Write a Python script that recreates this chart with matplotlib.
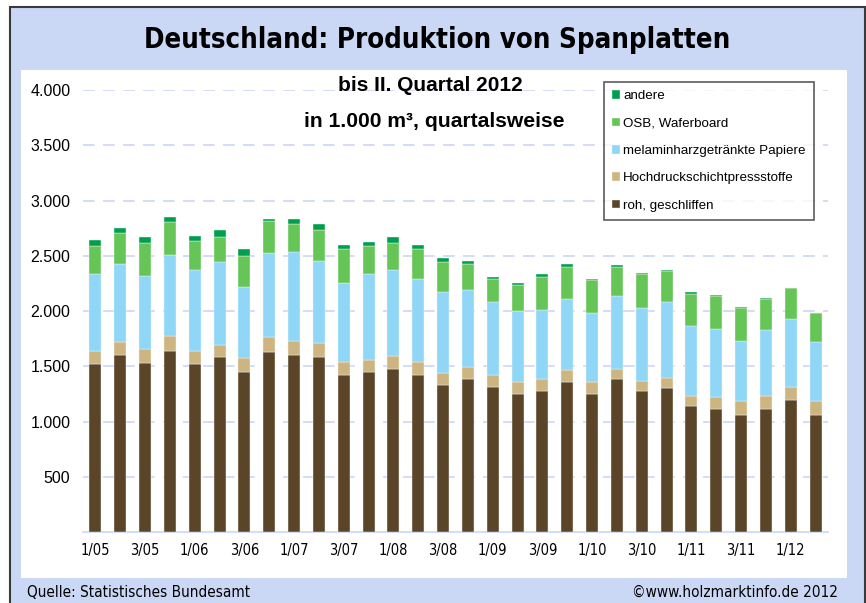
import matplotlib.pyplot as plt
from matplotlib.patches import Rectangle
import numpy as np

plt.rcParams['font.family'] = ['Liberation Sans', 'DejaVu Sans']

# data, 1.000 m3 per quarter, Q1 2005 .. Q2 2012
quarters = ["1/05", "2/05", "3/05", "4/05", "1/06", "2/06", "3/06", "4/06",
            "1/07", "2/07", "3/07", "4/07", "1/08", "2/08", "3/08", "4/08",
            "1/09", "2/09", "3/09", "4/09", "1/10", "2/10", "3/10", "4/10",
            "1/11", "2/11", "3/11", "4/11", "1/12", "2/12"]

roh = [1518, 1599, 1533, 1635, 1518, 1584, 1451, 1626, 1599, 1584,
       1424, 1451, 1478, 1424, 1327, 1382, 1315, 1249, 1276, 1358,
       1249, 1382, 1276, 1303, 1143, 1116, 1062, 1116, 1195, 1062]
hochdruck = [117, 121, 121, 139, 117, 109, 121, 136, 133, 124,
             118, 106, 118, 118, 109, 108, 106, 109, 106, 105,
             109, 93, 94, 94, 91, 106, 121, 118, 120, 121]
melamin = [698, 709, 667, 734, 740, 748, 643, 761, 806, 749,
           709, 776, 779, 752, 737, 698, 658, 640, 631, 643,
           628, 659, 655, 682, 631, 616, 549, 592, 616, 534]
osb = [256, 281, 296, 296, 257, 230, 281, 296, 254, 280,
       308, 256, 239, 268, 268, 242, 215, 241, 299, 296,
       295, 268, 308, 281, 293, 296, 296, 280, 281, 269]
andere = [52, 39, 51, 51, 51, 63, 63, 12, 39, 55,
          42, 40, 54, 39, 37, 24, 12, 12, 21, 24,
          13, 12, 15, 15, 15, 12, 12, 12, 0, 0]

series = [("roh, geschliffen", roh, "#5b4529"),
          ("Hochdruckschichtpressstoffe", hochdruck, "#cdb582"),
          ("melaminharzgetränkte Papiere", melamin, "#8fd6f7"),
          ("OSB, Waferboard", osb, "#65c657"),
          ("andere", andere, "#009f4f")]

fig = plt.figure(figsize=(8.66, 6.03), dpi=100)

# light blue frame and white panel
fig.patches.append(Rectangle((0.0116, -0.02), 0.987, 1.0084, transform=fig.transFigure,
                             facecolor="#cad8f6", edgecolor="#3a3a3a", lw=1.5, zorder=-2))
fig.patches.append(Rectangle((0.0243, 0.0415), 0.9538, 0.8425, transform=fig.transFigure,
                             facecolor="white", edgecolor="none", zorder=-1))

ax = fig.add_axes([0.0958, 0.1177, 0.8603, 0.733])
ax.set_facecolor("none")

x = np.arange(len(quarters))
bottom = np.zeros(len(quarters))
handles = []
for name, vals, col in series:
    b = ax.bar(x, vals, width=0.48, bottom=bottom, color=col,
               edgecolor="#f4f4f4", linewidth=0.3, label=name, zorder=3)
    handles.append(b)
    bottom += np.array(vals)

ax.set_xlim(-0.5, len(quarters) - 0.5)
ax.set_ylim(0, 4000)
ax.set_yticks(np.arange(500, 4001, 500))
ax.set_yticklabels([f"{v:,}".replace(",", ".") for v in range(500, 4001, 500)], fontsize=11.5)
ax.set_xticks(x[::2])
ax.set_xticklabels(quarters[::2], fontsize=10.5, fontstretch="condensed",
                   family=['DejaVu Sans'])
ax.tick_params(length=0, pad=8)
ax.tick_params(axis='y', pad=9)

for v in range(500, 4001, 500):
    ax.axhline(v, color="#cdd6f6", lw=1.2, dashes=(7, 5), zorder=1)

for s in ["top", "right", "left"]:
    ax.spines[s].set_visible(False)
ax.spines["bottom"].set_color("#cdd6f6")
ax.spines["bottom"].set_linewidth(1.2)

leg = ax.legend(handles[::-1], [s[0] for s in series][::-1],
                loc="upper left", bbox_to_anchor=(0.69, 1.034),
                frameon=True, fancybox=False,
                handlelength=0.6, handleheight=0.6, handletextpad=0.2,
                labelspacing=1.15, borderpad=0.65, prop={'size': 9.6})
leg.get_frame().set_edgecolor("#333333")
leg.get_frame().set_linewidth(1.2)

fig.text(0.505, 0.934, "Deutschland: Produktion von Spanplatten", ha="center", va="center",
         fontsize=19.8, fontweight="bold", fontstretch="condensed", family=['DejaVu Sans'])
fig.text(0.497, 0.859, "bis II. Quartal 2012", ha="center", va="center",
         fontsize=15, fontweight="bold")
fig.text(0.502, 0.798, "in 1.000 m³, quartalsweise", ha="center", va="center",
         fontsize=15.2, fontweight="bold")
fig.text(0.031, 0.018, "Quelle: Statistisches Bundesamt", ha="left", va="center",
         fontsize=11, fontstretch="condensed", family=['DejaVu Sans'])
fig.text(0.968, 0.018, "©www.holzmarktinfo.de 2012", ha="right", va="center",
         fontsize=11, fontstretch="condensed", family=['DejaVu Sans'])

fig.savefig("out.png", dpi=100)
